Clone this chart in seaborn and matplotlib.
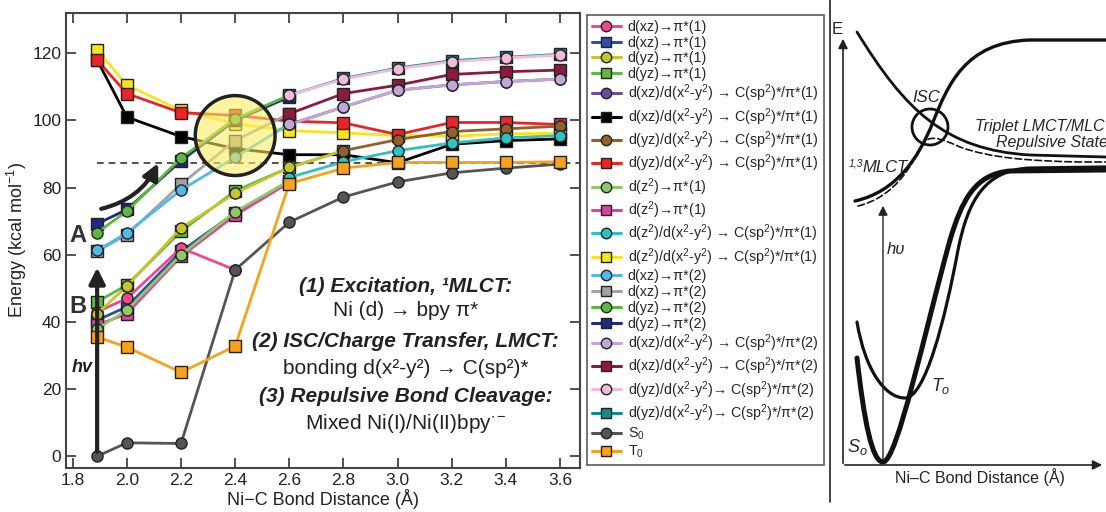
import numpy as np
import matplotlib
matplotlib.use("Agg")
import matplotlib.pyplot as plt
import seaborn as sns
from matplotlib.lines import Line2D
from matplotlib.patches import Ellipse, Circle, FancyArrowPatch, PathPatch
from matplotlib.path import Path

nan = np.nan

# Ni-C distances (Angstrom)
dist = [1.89, 2.0, 2.2, 2.4, 2.6, 2.8, 3.0, 3.2, 3.4, 3.6]

# energies (kcal/mol), one list per state
xz_pi1_c = [43.0, 47.0, 62.0, 55.5, nan, nan, nan, nan, nan, nan]
xz_pi1_s = [40.5, 44.5, 61.0, 72.5, 82.0, nan, nan, nan, nan, nan]
yz_pi1_c = [42.5, 50.6, 68.0, 78.3, 86.0, 91.0, nan, nan, nan, nan]
yz_pi1_s = [46.0, 51.0, 67.0, 79.0, 86.0, 91.0, nan, nan, nan, nan]
xz_x2y2_1_c = [nan, nan, nan, nan, 98.8, 104.0, 109.0, 110.6, 111.6, 112.3]
xz_x2y2_1_s = [118.0, 101.0, 95.2, 91.6, 89.8, 89.8, 87.4, 92.9, 94.0, 94.5]
yz_x2y2_1_c = [nan, nan, nan, nan, nan, 91.0, 94.3, 96.7, 97.5, 98.3]
yz_x2y2_1_s = [118.0, 108.0, 102.3, 101.5, 99.8, 99.3, 95.8, 99.4, 99.4, 98.8]
z2_pi1_c = [38.0, 43.5, 60.0, 72.8, 82.0, nan, nan, nan, nan, nan]
z2_pi1_s = [39.0, 42.5, 59.5, 71.8, 81.5, nan, nan, nan, nan, nan]
z2_x2y2_1_c = [nan, nan, nan, nan, 83.0, 87.7, 91.0, 93.3, 94.8, 95.5]
z2_x2y2_1_s = [121.0, 110.5, 103.0, 99.0, 97.0, 96.3, 95.5, 95.3, 96.0, 96.2]
xz_pi2_c = [61.3, 66.5, 79.3, 89.0, 99.0, nan, nan, nan, nan, nan]
xz_pi2_s = [61.0, 66.0, 81.0, 94.0, 102.0, nan, nan, nan, nan, nan]
yz_pi2_c = [66.6, 73.0, 88.8, 100.5, 107.5, nan, nan, nan, nan, nan]
yz_pi2_s = [69.2, 73.5, 88.0, 100.0, 107.0, nan, nan, nan, nan, nan]
xz_x2y2_2_c = [nan, nan, nan, nan, 98.8, 104.0, 109.0, 110.6, 111.6, 112.3]
xz_x2y2_2_s = [nan, nan, nan, nan, 102.0, 108.0, 110.5, 113.7, 114.5, 115.0]
yz_x2y2_2_c = [nan, nan, nan, nan, 107.5, 112.3, 115.4, 117.5, 118.6, 119.5]
yz_x2y2_2_s = [nan, nan, nan, nan, 107.5, 112.5, 115.6, 117.8, 118.8, 119.7]
s0 = [0.0, 4.0, 3.8, 55.5, 69.7, 77.2, 81.7, 84.4, 85.8, 87.0]
t0 = [35.5, 32.5, 25.0, 32.8, 81.2, 85.8, 87.5, 87.5, 87.5, 87.7]

labels = [
    "d(xz)→π*(1)", "d(xz)→π*(1)", "d(yz)→π*(1)", "d(yz)→π*(1)",
    r"d(xz)/d(x$^2$-y$^2$) → C(sp$^2$)*/π*(1)", r"d(xz)/d(x$^2$-y$^2$) → C(sp$^2$)*/π*(1)",
    r"d(yz)/d(x$^2$-y$^2$) → C(sp$^2$)*/π*(1)", r"d(yz)/d(x$^2$-y$^2$) → C(sp$^2$)*/π*(1)",
    r"d(z$^2$)→π*(1)", r"d(z$^2$)→π*(1)",
    r"d(z$^2$)/d(x$^2$-y$^2$) → C(sp$^2$)*/π*(1)", r"d(z$^2$)/d(x$^2$-y$^2$) → C(sp$^2$)*/π*(1)",
    "d(xz)→π*(2)", "d(xz)→π*(2)", "d(yz)→π*(2)", "d(yz)→π*(2)",
    r"d(xz)/d(x$^2$-y$^2$) → C(sp$^2$)*/π*(2)", r"d(xz)/d(x$^2$-y$^2$) → C(sp$^2$)*/π*(2)",
    r"d(yz)/d(x$^2$-y$^2$)→ C(sp$^2$)*/π*(2)", r"d(yz)/d(x$^2$-y$^2$)→ C(sp$^2$)*/π*(2)",
    r"S$_0$", r"T$_0$",
]
series = [xz_pi1_c, xz_pi1_s, yz_pi1_c, yz_pi1_s, xz_x2y2_1_c, xz_x2y2_1_s,
          yz_x2y2_1_c, yz_x2y2_1_s, z2_pi1_c, z2_pi1_s, z2_x2y2_1_c, z2_x2y2_1_s,
          xz_pi2_c, xz_pi2_s, yz_pi2_c, yz_pi2_s, xz_x2y2_2_c, xz_x2y2_2_s,
          yz_x2y2_2_c, yz_x2y2_2_s, s0, t0]
colors = ["#ec4a8c", "#2f4f9f", "#c6c52c", "#5fb744", "#6a4d9c", "#000000",
          "#93602c", "#ea2427", "#8fc865", "#d3469c", "#2fc1c4", "#f7e51b",
          "#4fb9e9", "#a3a3a3", "#5cb73f", "#1f2b7e", "#c0a7d6", "#8c1a3e",
          "#f2bbd9", "#128b8c", "#555555", "#f8a21c"]
markers = ["o", "s", "o", "s", "o", "s", "o", "s", "o", "s", "o", "s",
           "o", "s", "o", "s", "o", "s", "o", "s", "o", "s"]

# squares first, circles on top, T0 last
draw_order = [1, 3, 5, 9, 11, 7, 13, 15, 17, 19, 0, 2, 4, 6, 8, 10, 12, 14, 16, 18, 20, 21]

sns.set_style("ticks")
plt.rcParams["font.family"] = ["Liberation Sans", "DejaVu Sans"]
plt.rcParams["mathtext.fontset"] = "custom"
plt.rcParams["mathtext.rm"] = "Liberation Sans"
plt.rcParams["mathtext.it"] = "Liberation Sans:italic"
plt.rcParams["mathtext.bf"] = "Liberation Sans:bold"

fig = plt.figure(figsize=(11.06, 5.12), dpi=100)
ax = fig.add_axes([66 / 1106, 44 / 512, 514 / 1106, 455 / 512])

for i in draw_order:
    sns.lineplot(x=dist, y=series[i], ax=ax, color=colors[i], marker=markers[i],
                 markersize=8, markeredgecolor="#222222", markeredgewidth=1.0,
                 linewidth=2, legend=False, zorder=3)

ax.hlines(87.3, 1.89, 3.674, colors="#333333", linestyles=(0, (4, 3)), linewidth=1.2, zorder=1.5)

# ISC highlight
ax.add_patch(Ellipse((2.4, 95.5), 0.295, 23.8, facecolor=(0.98, 0.93, 0.38, 0.58),
                     edgecolor="#222222", linewidth=2.5, zorder=6))

# excitation arrows
ax.add_patch(FancyArrowPatch((1.89, 0.5), (1.89, 57), arrowstyle="-|>", mutation_scale=24,
                             linewidth=3, color="#222222", zorder=7))
ax.add_patch(FancyArrowPatch((1.895, 73.5), (2.12, 88), arrowstyle="-|>", mutation_scale=24,
                             connectionstyle="arc3,rad=0.25", linewidth=3, color="#222222", zorder=7))

ax.text(1.82, 65.8, "A", fontsize=17, fontweight="bold", color="#333333", ha="center", va="center")
ax.text(1.82, 44.5, "B", fontsize=17, fontweight="bold", color="#333333", ha="center", va="center")
ax.text(1.835, 26.5, "hv", fontsize=13, fontweight="bold", fontstyle="italic", color="#222222",
        ha="center", va="center")

notes = [("(1) Excitation, ¹MLCT:", 50.6, True), ("Ni (d) → bpy π*", 43.5, False),
         ("(2) ISC/Charge Transfer, LMCT:", 34.2, True), ("bonding d(x²-y²) → C(sp²)*", 26.2, False),
         ("(3) Repulsive Bond Cleavage:", 17.9, True), (r"Mixed Ni(I)/Ni(II)bpy$^{\bullet-}$", 9.8, False)]
for txt, yv, bold in notes:
    ax.text(3.03, yv, txt, fontsize=15, ha="center", va="center", color="#222222",
            fontweight="bold" if bold else "normal", fontstyle="italic" if bold else "normal")

ax.set_xlim(1.775, 3.674)
ax.set_ylim(-3.5, 132)
ax.set_xticks([1.8, 2.0, 2.2, 2.4, 2.6, 2.8, 3.0, 3.2, 3.4, 3.6])
ax.set_xticklabels(["1.8", "2.0", "2.2", "2.4", "2.6", "2.8", "3.0", "3.2", "3.4", "3.6"])
ax.set_yticks([0, 20, 40, 60, 80, 100, 120])
ax.tick_params(direction="in", top=True, right=True, length=7, width=1.2,
               labelsize=12.5, colors="#333333", labelcolor="#222222")
for sp in ax.spines.values():
    sp.set_linewidth(1.5)
    sp.set_color("#444444")
ax.set_xlabel("Ni−C Bond Distance (Å)", fontsize=13, labelpad=1, color="#222222")
ax.set_ylabel(r"Energy (kcal mol$^{-1}$)", fontsize=13, labelpad=2, color="#222222")

handles = [Line2D([], [], color=colors[i], marker=markers[i], markersize=7.5,
                  markeredgecolor="#222222", markeredgewidth=1.0, linewidth=2.2)
           for i in range(len(series))]
leg = fig.legend(handles, labels, loc="upper left", bbox_to_anchor=(587 / 1106, 1 - 15 / 512),
                 fontsize=10.3, frameon=True, fancybox=False, edgecolor="#333333",
                 handlelength=2.0, handletextpad=0.5, labelspacing=0.12, borderpad=0.35,
                 borderaxespad=0)
leg.get_frame().set_linewidth(1.2)

# right-hand schematic, drawn in pixel coordinates
ax2 = fig.add_axes([826 / 1106, 0, 280 / 1106, 1])
ax2.set_xlim(826, 1106)
ax2.set_ylim(512, 0)
ax2.axis("off")

ax2.plot([830, 830], [0, 502], color="#222222", linewidth=1.2)

def bez(points, lw, ls="-"):
    codes = [Path.MOVETO] + [Path.CURVE4] * (len(points) - 2) + [Path.LINETO]
    ax2.add_patch(PathPatch(Path(points, codes), facecolor="none", edgecolor="#111111",
                            linewidth=lw, linestyle=ls, capstyle="round"))

repulsive = [(857, 32), (905, 110), (945, 150), (1030, 155), (1106, 157)]
mlct = [(855, 201), (895, 192), (918, 160), (933, 122), (948, 85), (965, 42), (1030, 40), (1106, 40)]
dashed = [(858, 206), (895, 197), (912, 165), (922, 145), (928, 134), (940, 138), (960, 147),
          (990, 158), (1030, 161), (1080, 162), (1106, 162)]
s0_curve = [(857, 358), (864, 420), (872, 462), (883, 462), (897, 462), (925, 330), (950, 240),
            (962, 200), (975, 174), (1010, 171), (1106, 170)]
t0_curve = [(857, 322), (865, 370), (885, 398), (905, 398), (925, 398), (945, 320), (958, 250),
            (968, 200), (985, 170), (1030, 168), (1106, 167)]

bez(repulsive, 2.0)
bez(mlct, 2.4)
bez(dashed, 1.2, (0, (4, 2)))
bez(s0_curve, 3.6)
bez(t0_curve, 2.3)
ax2.add_patch(Circle((930, 127), 18, facecolor="none", edgecolor="#111111", linewidth=2))

arrow_kw = dict(arrowstyle="-|>", mutation_scale=14, color="#222222", linewidth=1.2)
ax2.add_patch(FancyArrowPatch((843, 466), (843, 36), **arrow_kw))
ax2.add_patch(FancyArrowPatch((842, 465), (1105, 465), **arrow_kw))
ax2.add_patch(FancyArrowPatch((883, 462), (883, 203), arrowstyle="-|>", mutation_scale=14,
                              color="#222222", linewidth=1.0))

ax2.text(837, 30, "E", fontsize=12, ha="center", va="center", color="#222222")
ax2.text(926, 98, "ISC", fontsize=12, fontstyle="italic", ha="center", va="center")
ax2.text(849, 164, "1,3", fontsize=7.5, fontstyle="italic", ha="left", va="center")
ax2.text(862, 168, "MLCT", fontsize=12, fontstyle="italic", ha="left", va="center")
ax2.text(975, 127, "Triplet LMCT/MLCT", fontsize=11.5, fontstyle="italic", ha="left", va="center")
ax2.text(996, 143, "Repulsive States", fontsize=11.5, fontstyle="italic", ha="left", va="center")
ax2.text(896, 249, "hυ", fontsize=12, fontstyle="italic", ha="center", va="center")
ax2.text(941, 386, r"$\mathit{T_o}$", fontsize=13, ha="center", va="center")
ax2.text(857, 447, r"$\mathit{S_o}$", fontsize=13, ha="center", va="center")
ax2.text(980, 477, "Ni–C Bond Distance (Å)", fontsize=11.5, ha="center", va="center", color="#222222")

fig.savefig("out.png", dpi=100)
